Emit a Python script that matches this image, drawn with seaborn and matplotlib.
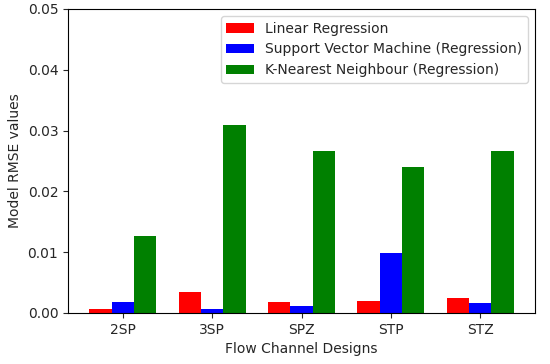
import pandas as pd
from matplotlib import pyplot as plt
import seaborn as sns

designs = ['2SP', '3SP', 'SPZ', 'STP', 'STZ']
linear_reg = [0.0007, 0.0035, 0.0018, 0.0020, 0.0025]
svm_reg = [0.0018, 0.0007, 0.0012, 0.0099, 0.0016]
knn_reg = [0.0127, 0.0310, 0.0267, 0.0240, 0.0267]
models = ['Linear Regression', 'Support Vector Machine (Regression)',
          'K-Nearest Neighbour (Regression)']
colors = ['red', 'blue', 'green']

data = pd.DataFrame({
    'design': designs * 3,
    'rmse': linear_reg + svm_reg + knn_reg,
    'model': [m for m in models for _ in designs],
})

sns.set_style('ticks')
plt.rcParams['font.size'] = 10
fig = plt.figure(figsize=(5.5, 3.64), dpi=100)
ax = fig.add_axes([68 / 550, 1 - 313 / 364, (535 - 68) / 550, (313 - 9) / 364])
sns.barplot(data=data, x='design', y='rmse', hue='model', palette=colors,
            width=0.75, saturation=1, linewidth=0, ax=ax)
ax.set_xlim(-0.6125, 4.6125)
ax.set_ylim(0, 0.05)
ax.set_yticks([0, 0.01, 0.02, 0.03, 0.04, 0.05])
ax.set_xlabel('Flow Channel Designs')
ax.set_ylabel('Model RMSE values')
for s in ax.spines.values():
    s.set_visible(True)
    s.set_color('black')
ax.legend(loc='upper right', title=None)
fig.savefig('out.png', dpi=100)
